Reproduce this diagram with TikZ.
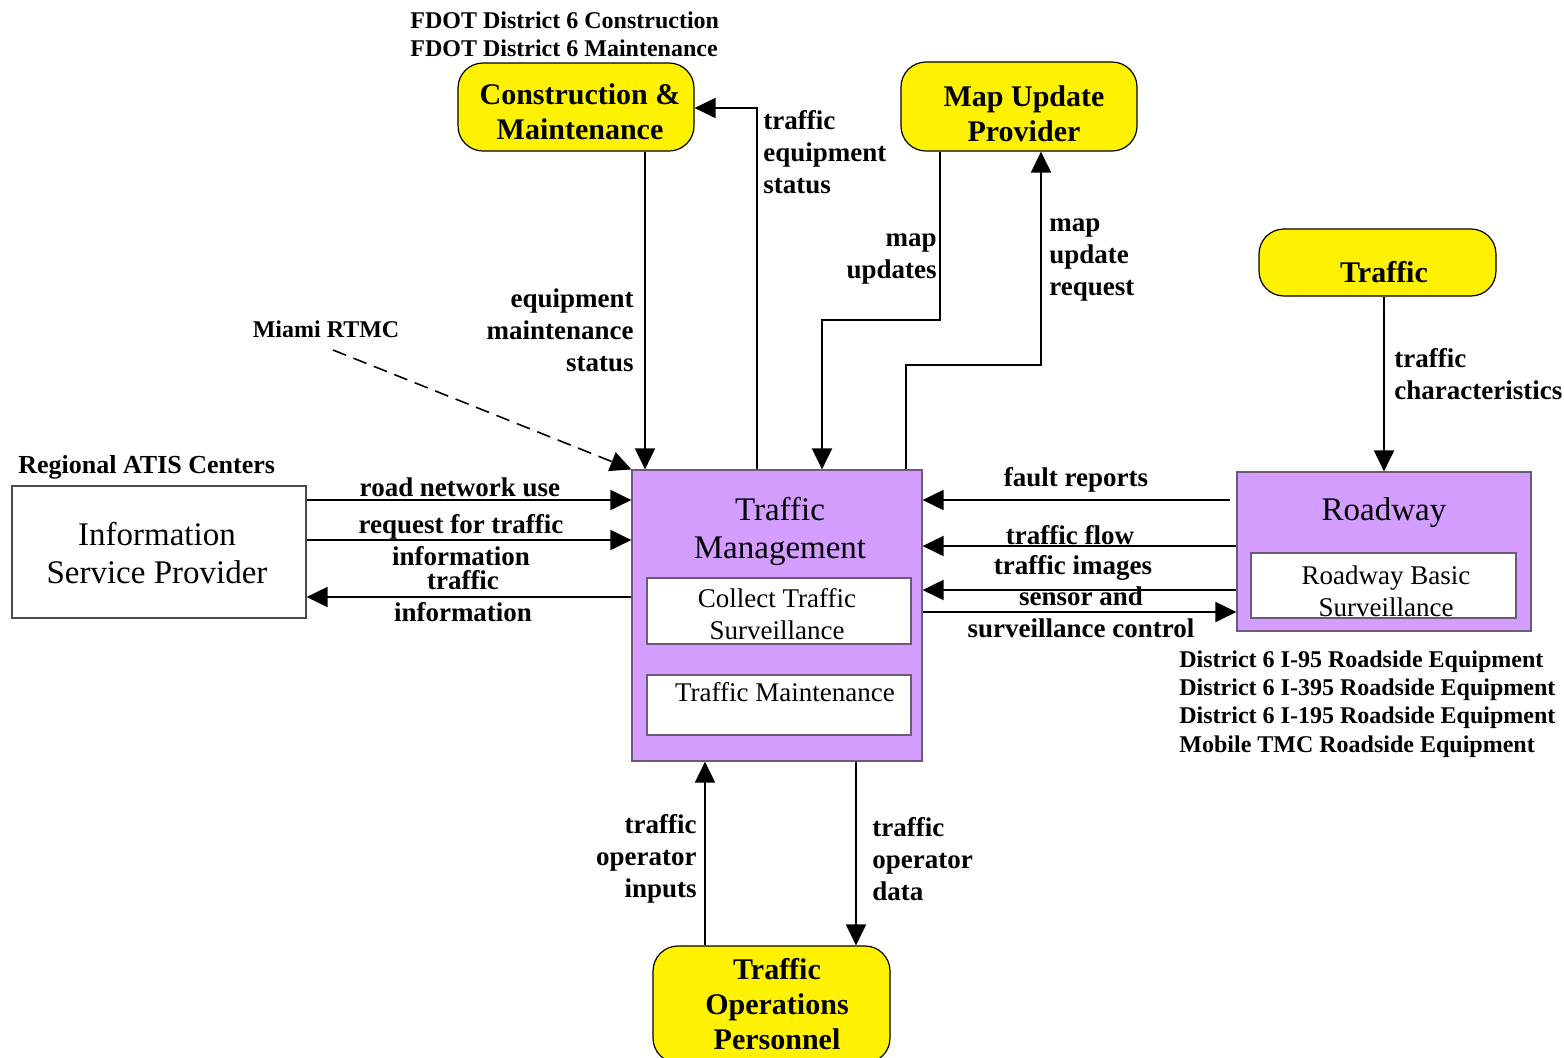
\documentclass[tikz,border=0pt]{standalone}
\usepackage{fontspec}
\setmainfont{Liberation Serif}
\usetikzlibrary{arrows.meta}
\definecolor{tmpurple}{RGB}{211,158,255}
\definecolor{tmborder}{RGB}{110,90,120}
\begin{document}
\begin{tikzpicture}[x=0.5pt,y=-0.5pt,
  ext/.style={draw=black,line width=0.6pt,fill=yellow,rounded corners=12.5pt,inner sep=0pt},
  extt/.style={inner sep=0pt,align=center,font=\bfseries\fontsize{15}{17.5}\selectfont},
  sys/.style={draw=tmborder,line width=0.6pt,fill=tmpurple,inner sep=0pt},
  sub/.style={draw=tmborder,line width=0.6pt,fill=white,inner sep=0pt},
  big/.style={inner sep=0pt,align=center,font=\fontsize{16.5}{19}\selectfont},
  small/.style={inner sep=0pt,align=center,font=\fontsize{13.5}{16}\selectfont},
  lbl/.style={inner sep=0pt,font=\bfseries\fontsize{13.5}{16}\selectfont},
  note/.style={inner sep=0pt,font=\bfseries\fontsize{12}{14.2}\selectfont},
  arr/.style={line width=1pt,-{Triangle[length=10.5pt,width=10pt]}}]
\useasboundingbox (0,0) rectangle (1564,1057);

% external yellow nodes
\node[ext,minimum width=118pt,minimum height=44pt] (CM) at (576,107) {};
\node[extt] (CMt) at (580,112) {Construction \&\\Maintenance};
\node[ext,minimum width=118pt,minimum height=44.5pt] (MUP) at (1019,106.5) {};
\node[extt] (MUPt) at (1024,114) {Map Update\\Provider};
\node[ext,minimum width=118.5pt,minimum height=33.5pt] (TR) at (1377.5,262.5) {};
\node[extt] (TRt) at (1384,272) {Traffic};
\node[ext,minimum width=118.5pt,minimum height=58.5pt] (TOP) at (771.5,1004.5) {};
\node[extt] (TOPt) at (777,1004) {Traffic\\Operations\\Personnel};

% Traffic Management
\node[sys,minimum width=145pt,minimum height=145.5pt] (TM) at (777,615.5) {};
\node[big] (TMt) at (780,531) {Traffic\\Management};
\node[sub,minimum width=132pt,minimum height=33pt] (CTS) at (779,611) {};
\node[small] (CTSt) at (777,614) {Collect Traffic\\Surveillance};
\node[sub,minimum width=132pt,minimum height=30pt] (TMA) at (779,705) {};
\node[small] (TMAt) at (785,692) {Traffic Maintenance};

% Roadway
\node[sys,minimum width=147pt,minimum height=79.5pt] (RW) at (1384,551.5) {};
\node[big] (RWt) at (1384,513) {Roadway};
\node[sub,minimum width=132.5pt,minimum height=32.5pt] (RBS) at (1383.5,585.5) {};
\node[small] (RBSt) at (1386,591) {Roadway Basic\\Surveillance};

% Information Service Provider
\node[draw=black!70,line width=0.6pt,fill=white,minimum width=147pt,minimum height=66pt,inner sep=0pt] (ISP) at (159,552) {};
\node[big] (ISPt) at (157,553) {Information\\Service Provider};

% notes
\node[note,anchor=west,align=left] (FDOT) at (410,34) {FDOT District 6 Construction\\FDOT District 6 Maintenance};
\node[note,anchor=west] (ATIS) at (18,467) {\fontsize{13}{15}\selectfont Regional ATIS Centers};
\node[note] (RTMC) at (326,329) {Miami RTMC};
\node[note,anchor=west,align=left] (D6) at (1179,704) {District 6 I-95 Roadside Equipment\\District 6 I-395 Roadside Equipment\\District 6 I-195 Roadside Equipment\\Mobile TMC Roadside Equipment};

% connectors top
\draw[arr] (CM.south -| 645,0) -- (TM.north -| 645,0);
\node[lbl,anchor=east,align=right] (l1) at (634,330) {equipment\\maintenance\\status};

\draw[arr] (TM.north -| 757,0) -- (757,108) -- (CM.east |- 0,108);
\node[lbl,anchor=west,align=left] (l2) at (763,152) {traffic\\equipment\\status};

\draw[arr] (MUP.south -| 940,0) -- (940,320) -- (822,320) -- (TM.north -| 822,0);
\node[lbl,anchor=east,align=right] (l3) at (937,259) {map\\updates};

\draw[arr] (TM.north -| 906,0) -- (906,365) -- (1041,365) -- (MUP.south -| 1041,0);
\node[lbl,anchor=west,align=left] (l4) at (1049,260) {map\\update\\request};

\draw[arr] (TR.south -| 1384,0) -- (RW.north -| 1384,0);
\node[lbl,anchor=west,align=left] (l5) at (1394,374) {traffic\\characteristics};

\coordinate (rtmcs) at (333,350);
\draw[line width=0.8pt,dash pattern=on 7pt off 4pt,-{Triangle[length=10.5pt,width=10pt]}] (rtmcs) -- (TM.north west);

% left connectors
\draw[arr] (ISP.east |- 0,500) -- (TM.west |- 0,500);
\node[lbl] (l6) at (460,487) {road network use};
\draw[arr] (ISP.east |- 0,540) -- (TM.west |- 0,540);
\node[lbl,align=center] (l7) at (461,540) {request for traffic\\information};
\draw[arr] (TM.west |- 0,597) -- (ISP.east |- 0,597);
\node[lbl,align=center] (l8) at (463,596) {traffic\\information};

% right connectors
\coordinate (fr) at (1230,500);
\draw[arr] (fr) -- (TM.east |- 0,500);
\node[lbl] (l9) at (1076,480) {fault reports};
\draw[arr] (RW.west |- 0,546) -- (TM.east |- 0,546);
\node[lbl] (l10) at (1070,535) {traffic flow};
\draw[arr] (RW.west |- 0,590) -- (TM.east |- 0,590);
\node[lbl] (l11) at (1073,568) {traffic images};
\draw[arr] (TM.east |- 0,612) -- (RW.west |- 0,612);
\node[lbl,align=center] (l12) at (1081,612) {sensor and\\surveillance control};

% bottom connectors
\draw[arr] (TOP.north -| 705,0) -- (TM.south -| 705,0);
\node[lbl,anchor=east,align=right] (l13) at (697,859) {traffic\\operator\\inputs};
\draw[arr] (TM.south -| 856,0) -- (TOP.north -| 856,0);
\node[lbl,anchor=west,align=left] (l14) at (872,859) {traffic\\operator\\data};
\end{tikzpicture}
\end{document}
